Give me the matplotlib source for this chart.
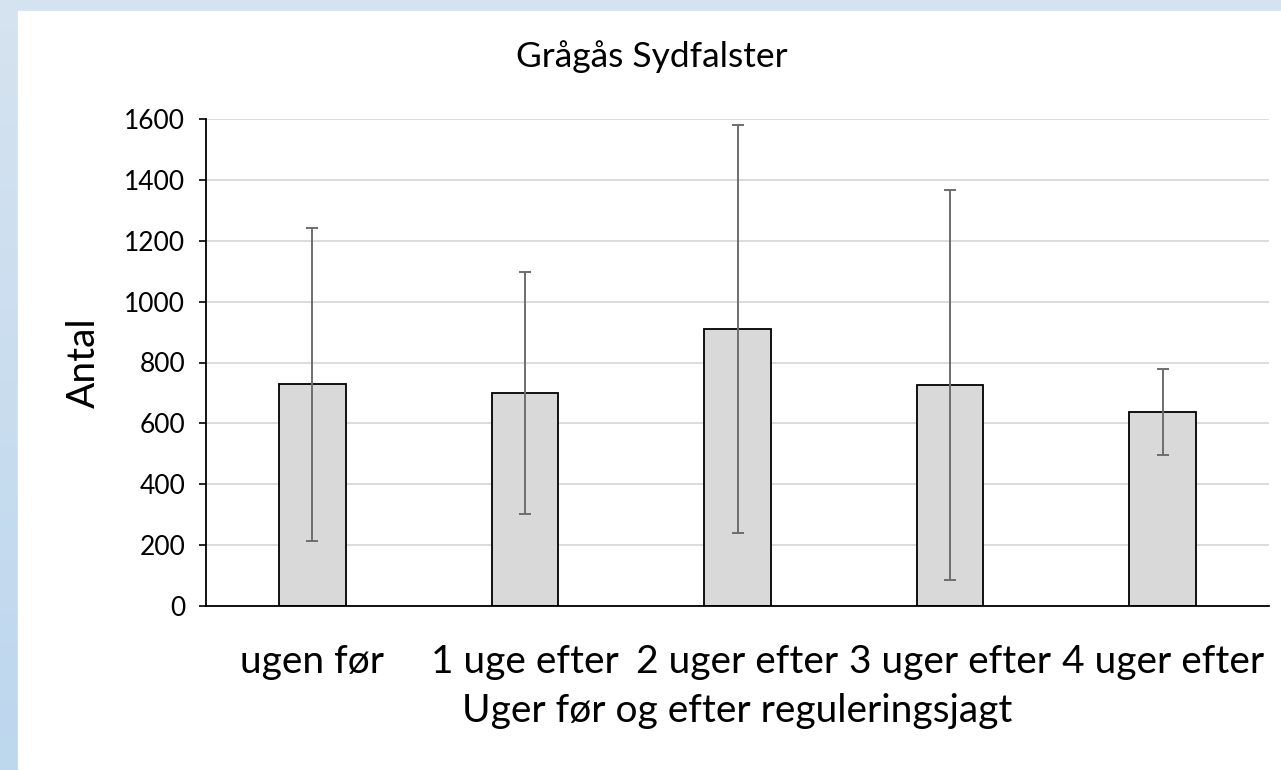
import numpy as np
import matplotlib
matplotlib.use("Agg")
from matplotlib import pyplot as plt
from matplotlib.patches import Rectangle

plt.rcParams["font.family"] = ["Lato", "DejaVu Sans"]

# Data
categories = ["ugen før", "1 uge efter", "2 uger efter", "3 uger efter", "4 uger efter"]
means = [728, 699, 910, 726, 637]
errors = [513, 398, 670, 642, 141]
y_ticks = [0, 200, 400, 600, 800, 1000, 1200, 1400, 1600]

fig = plt.figure(figsize=(12.81, 7.70), dpi=100)

# Light blue frame behind the white chart area
bg = fig.add_axes([0, 0, 1, 1], zorder=-10)
grad = np.linspace(0, 1, 256).reshape(-1, 1)
top_col = np.array([0.839, 0.890, 0.941])
bot_col = np.array([0.741, 0.843, 0.933])
img = top_col + (bot_col - top_col) * grad[:, :, None]
bg.imshow(img, aspect="auto", extent=[0, 1, 0, 1], origin="upper")
bg.add_patch(Rectangle((18 / 1281, 0), 1, 1 - 11 / 770, color="white"))
bg.set_xlim(0, 1)
bg.set_ylim(0, 1)
bg.axis("off")

ax = fig.add_axes([206 / 1281, 1 - 606 / 770, (1269 - 206) / 1281, (606 - 119) / 770])
ax.set_facecolor("none")

x = np.arange(len(categories))
ax.bar(x, means, width=0.314, color="#D9D9D9", edgecolor="black", linewidth=1.3, zorder=2)
ax.errorbar(x, means, yerr=errors, fmt="none", ecolor="#6E6E6E", elinewidth=1.4,
            capsize=4.3, capthick=1.4, zorder=3)

ax.set_xlim(-0.5, len(categories) - 0.5)
ax.set_ylim(0, 1600)
ax.set_yticks(y_ticks)
ax.set_xticks(x)
ax.set_xticklabels(categories, fontsize=28)
ax.tick_params(axis="x", length=0, pad=27)
ax.tick_params(axis="y", labelsize=19, length=5, width=1.2, pad=10)
ax.yaxis.grid(True, color="#D9D9D9", linewidth=1.3, zorder=0)
ax.set_axisbelow(True)

for side in ["top", "right"]:
    ax.spines[side].set_visible(False)
ax.spines["left"].set_linewidth(1.3)
ax.spines["bottom"].set_linewidth(1.3)

fig.text(652 / 1281, 1 - 67 / 770, "Grågås Sydfalster", fontsize=25.5,
         ha="center", va="baseline")
ax.set_xlabel("Uger før og efter reguleringsjagt", fontsize=28, labelpad=10)
ax.set_ylabel("Antal", fontsize=28, labelpad=16)

fig.savefig("out.png", dpi=100)
